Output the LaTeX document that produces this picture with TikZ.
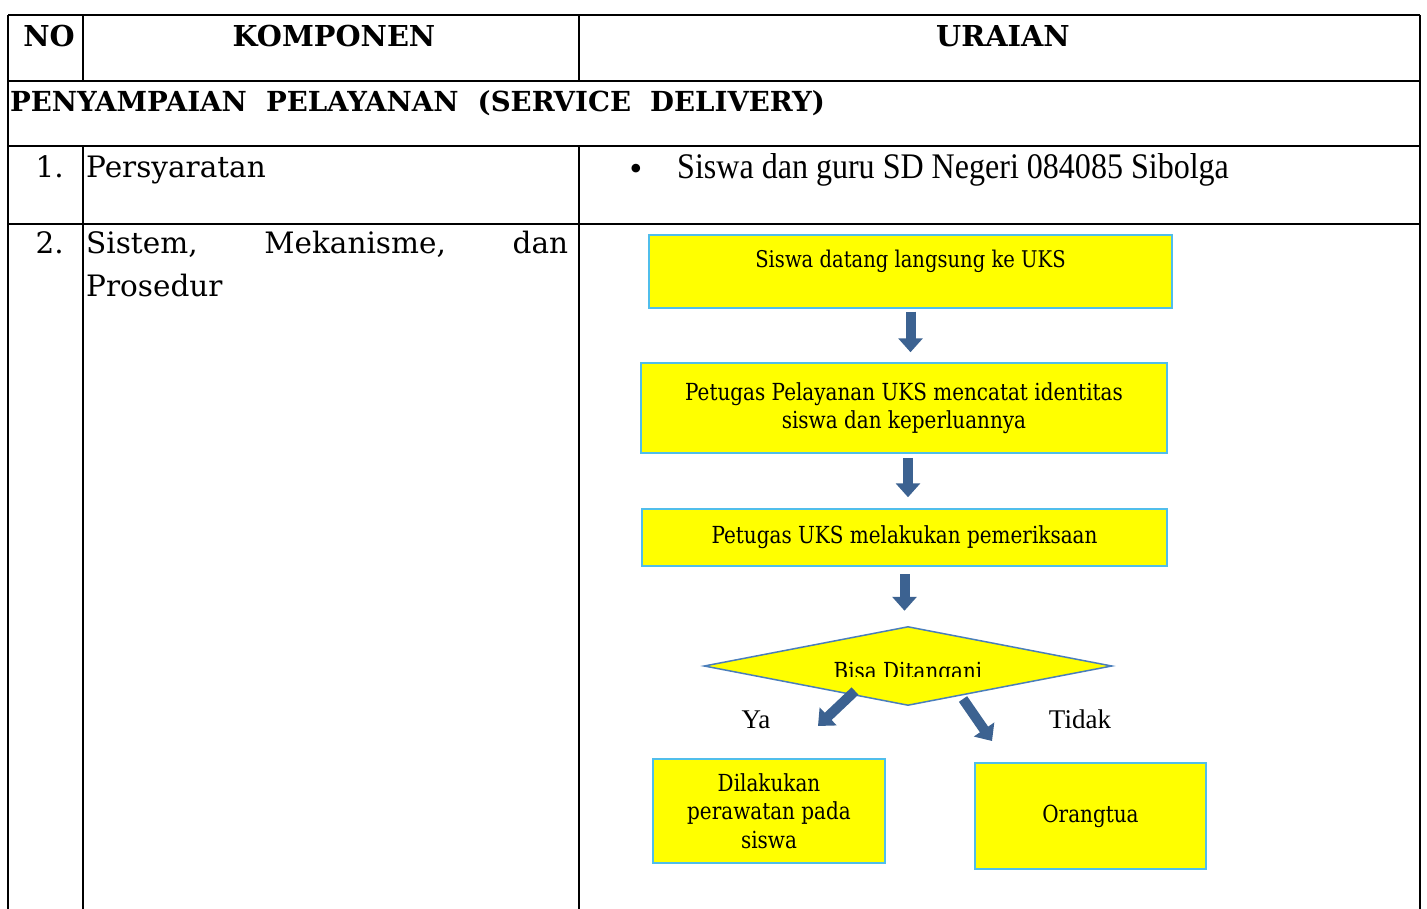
\documentclass[tikz,border=0pt]{standalone}
\usepackage{fontspec}
\setmainfont{Liberation Serif}
\newfontfamily\cam{DejaVu Serif}
\newfontfamily\camN[FakeStretch=0.85]{DejaVu Serif}
\newfontfamily\timesN[FakeStretch=0.89]{Liberation Serif}
\usetikzlibrary{arrows.meta,shapes.geometric}
\definecolor{arrowblue}{RGB}{60,98,145}
\definecolor{boxline}{RGB}{80,190,235}
\definecolor{boxfill}{RGB}{255,255,0}
\definecolor{dialine}{RGB}{74,126,187}
\tikzset{
 grid/.style={line width=2pt, black},
 head/.style={font=\cam\bfseries\fontsize{28.8}{32}\selectfont, anchor=base, inner sep=0},
 cell/.style={font=\cam\fontsize{29.5}{43}\selectfont, anchor=base west, inner sep=0},
 fbox/.style={draw=boxline, fill=boxfill, line width=1.5pt, inner sep=0, font=\camN\fontsize{23.5}{28.5}\selectfont, align=center},
 barrow/.style={draw=arrowblue, line width=10pt, -{Triangle[length=14pt,width=24pt]}},
 lbl/.style={font=\fontsize{27}{30}\selectfont, anchor=base, inner sep=0},
}
\begin{document}
\begin{tikzpicture}[x=1pt,y=-1pt]
\useasboundingbox (0,0) rectangle (1427,909);
% table grid
\draw[grid] (8,15) -- (1420,15);
\draw[grid] (8,81) -- (1420,81);
\draw[grid] (8,146) -- (1420,146);
\draw[grid] (8,224) -- (1420,224);
\draw[grid] (8,15) -- (8,909);
\draw[grid] (1420,15) -- (1420,909);
\draw[grid] (83,15) -- (83,81);
\draw[grid] (83,146) -- (83,909);
\draw[grid] (579,15) -- (579,81);
\draw[grid] (579,146) -- (579,909);
% headers
\node[head] (no) at (49,47) {NO};
\node[head] (komp) at (334,47) {KOMPONEN};
\node[head] (ur) at (1003,47) {URAIAN};
\node[head, anchor=base west, font=\cam\bfseries\fontsize{27.6}{32}\selectfont] (sec) at (10,112) {PENYAMPAIAN\ \ PELAYANAN\ \ (SERVICE\ \ DELIVERY)};
% rows
\node[cell, anchor=base east] (n1) at (64,178) {1.};
\node[cell] (k1) at (86,178) {Persyaratan};
\node[cell, anchor=base east] (n2) at (64,254) {2.};
\node[cell] (k2a) at (86,254) {\makebox[482pt][s]{Sistem, Mekanisme, dan}};
\node[cell] (k2b) at (86,297) {Prosedur};
\node[font=\fontsize{36}{40}\selectfont, anchor=base, inner sep=0] (bul) at (636,181) {•};
\node[font=\timesN\fontsize{36}{40}\selectfont, anchor=base west, inner sep=0] (req) at (677,179) {Siswa dan guru SD Negeri 084085 Sibolga};
% flowchart
\node[fbox, font=\camN\fontsize{23}{28}\selectfont, minimum width=523pt, text height=33pt, text depth=40pt] (b1) at (910.5,271.5) {Siswa datang langsung ke UKS};
\node[fbox, minimum width=526pt, minimum height=90pt] (b2) at (904,408) {Petugas Pelayanan UKS mencatat identitas\\siswa dan keperluannya};
\node[fbox, minimum width=525pt, minimum height=57pt] (b3) at (904.5,537.5) {Petugas UKS melakukan pemeriksaan};
\node[diamond, draw=dialine, line width=1.5pt, fill=boxfill, minimum width=408pt, minimum height=79pt, inner sep=0] (dia) at (908,666) {};
\begin{scope}
\clip (800,640) rectangle (1010,676);
\node[font=\camN\fontsize{23.5}{26}\selectfont, anchor=base, inner sep=0] (dtext) at (908,679) {Bisa Ditangani};
\end{scope}
\node[lbl] (ya) at (756,728) {Ya};
\node[lbl] (tidak) at (1080,728) {Tidak};
\node[fbox, minimum width=232pt, minimum height=104pt] (bya) at (769,811) {Dilakukan\\perawatan pada\\siswa};
\node[fbox, minimum width=231pt, minimum height=106pt] (btd) at (1090.5,816) {Orangtua};
% arrows
\draw[barrow, shorten <=3pt, shorten >=10pt] (b1.south) -- (b1.south |- b2.north);
\draw[barrow, shorten <=4pt, shorten >=11pt] ([xshift=4pt]b2.south) -- ([xshift=4pt]b2.south |- b3.north);
\draw[barrow, shorten <=7pt, shorten >=15pt] (b3.south) -- (b3.south |- dia.north);
\coordinate (yas) at (855,691);
\coordinate (yae) at (818,726);
\coordinate (tds) at (963,699);
\coordinate (tde) at (992,741);
\draw[barrow] (yas) -- (yae);
\draw[barrow] (tds) -- (tde);
\end{tikzpicture}
\end{document}
